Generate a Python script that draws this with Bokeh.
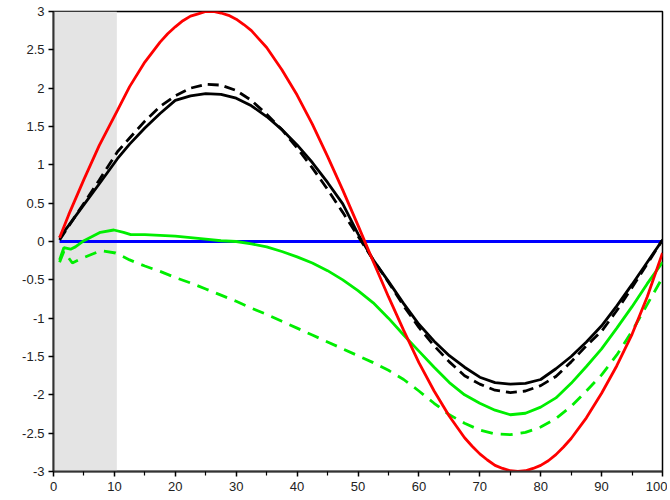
from bokeh.plotting import figure
from bokeh.models import Range1d, FixedTicker, BoxAnnotation
from bokeh.embed import file_html
from bokeh.resources import INLINE

# red curve
red_x = [1, 2.5, 5, 7.5, 10.5, 12.5, 15, 17.5, 18.75, 20, 21.25, 22.5, 23.75, 25, 26.25,
         27.5, 28.75, 30, 31.25, 32.5, 33.75, 35, 37.5, 40, 42.5, 45, 47.5, 50, 52.5, 55,
         57.5, 60, 62.5, 65, 67.5, 68.75, 70, 71.25, 72.5, 73.75, 75, 76.25, 77.5, 78.75,
         80, 81.25, 82.5, 83.75, 85, 87.5, 90, 92.5, 95, 97.5, 100]
red = [0.05, 0.35, 0.81, 1.25, 1.71, 2.02, 2.34, 2.60, 2.71, 2.80, 2.88, 2.94, 2.97, 3.0,
       3.0, 2.98, 2.95, 2.90, 2.83, 2.75, 2.64, 2.53, 2.24, 1.91, 1.53, 1.11, 0.67, 0.21,
       -0.26, -0.72, -1.16, -1.58, -1.95, -2.28, -2.56, -2.67, -2.77, -2.85, -2.92, -2.96,
       -2.99, -3.0, -2.99, -2.96, -2.92, -2.86, -2.78, -2.68, -2.57, -2.30, -1.98, -1.62,
       -1.21, -0.72, -0.15]

# black curves
x = [1, 2.5, 5, 7.5, 10.5, 12.5, 15, 17.5, 20, 22.5, 25, 27.5, 30, 32.5, 35, 37.5,
     40, 42.5, 45, 47.5, 50, 52.5, 55, 57.5, 60, 62.5, 65, 67.5, 70, 72.5, 75, 77.5,
     80, 82.5, 85, 87.5, 90, 92.5, 95, 97.5, 100]
black_solid = [0.05, 0.21, 0.48, 0.75, 1.08, 1.27, 1.48, 1.67, 1.84, 1.90, 1.93, 1.92,
               1.87, 1.77, 1.63, 1.46, 1.26, 1.03, 0.77, 0.49, 0.10, -0.24, -0.52,
               -0.81, -1.08, -1.30, -1.49, -1.64, -1.77, -1.84, -1.86, -1.85, -1.80,
               -1.66, -1.50, -1.31, -1.10, -0.84, -0.56, -0.27, 0.02]
black_dashed = [0.02, 0.20, 0.50, 0.80, 1.17, 1.35, 1.57, 1.76, 1.90, 2.00, 2.05, 2.04,
                1.97, 1.84, 1.66, 1.46, 1.22, 0.96, 0.68, 0.38, 0.07, -0.24, -0.53,
                -0.84, -1.12, -1.36, -1.57, -1.75, -1.86, -1.94, -1.97, -1.95, -1.88,
                -1.76, -1.57, -1.36, -1.17, -0.90, -0.60, -0.29, 0.02]

# green curves
green_x = [1, 1.7, 2.8, 3.6, 5, 7.7, 9.9, 11.5, 12.7, 15, 17.5, 20, 22.5, 25, 27.5, 30,
           32.5, 35, 37.5, 40, 42.5, 45, 47.5, 50, 52.5, 55, 57.5, 60, 62.5, 65, 67.5,
           70, 72.5, 75, 77.5, 80, 82.5, 85, 87.5, 90, 92.5, 95, 97.5, 100]
green_solid = [-0.24, -0.08, -0.10, -0.07, 0.01, 0.12, 0.15, 0.12, 0.09, 0.09, 0.08,
               0.07, 0.05, 0.03, 0.01, 0.0, -0.03, -0.07, -0.13, -0.20, -0.28, -0.38,
               -0.50, -0.64, -0.80, -1.00, -1.22, -1.43, -1.64, -1.84, -2.00, -2.11,
               -2.20, -2.26, -2.24, -2.16, -2.04, -1.85, -1.63, -1.40, -1.13, -0.85,
               -0.55, -0.27]

gd_x = [1, 1.7, 3.1, 4.4, 7.7, 10.2, 12.5, 15, 17.5, 20, 22.5, 25, 27.5, 30, 32.5, 35,
        37.5, 40, 42.5, 45, 47.5, 50, 52.5, 55, 57.5, 60, 62.5, 65, 67.5, 70, 72.5, 75,
        77.5, 80, 82.5, 85, 87.5, 90, 92.5, 95, 97.5, 100]
green_dashed = [-0.27, -0.13, -0.28, -0.23, -0.12, -0.15, -0.24, -0.32, -0.39, -0.47,
                -0.54, -0.62, -0.70, -0.78, -0.87, -0.95, -1.04, -1.13, -1.22, -1.31,
                -1.40, -1.49, -1.58, -1.68, -1.80, -1.95, -2.11, -2.26, -2.37, -2.46,
                -2.51, -2.52, -2.49, -2.42, -2.31, -2.15, -1.95, -1.74, -1.48, -1.17,
                -0.82, -0.47]

blue_x = [1, 100]
blue_y = [0, 0]

shade_left, shade_right = 0, 10.4

x_ticks = [0, 10, 20, 30, 40, 50, 60, 70, 80, 90, 100]
x_minor = [5, 15, 25, 35, 45, 55, 65, 75, 85, 95]
y_ticks = [-3, -2.5, -2, -1.5, -1, -0.5, 0, 0.5, 1, 1.5, 2, 2.5, 3]
y_labels = ["-3", "-2.5", "-2", "-1.5", "-1", "-0.5", "0", "0.5", "1", "1.5", "2", "2.5", "3"]

p = figure(width=667, height=498, output_backend="svg", toolbar_location=None,
           x_range=Range1d(0, 100), y_range=Range1d(-3, 3),
           min_border_left=53, min_border_top=11, min_border_right=5, min_border_bottom=27)
p.xgrid.visible = False
p.ygrid.visible = False
p.outline_line_color = "black"
p.outline_line_width = 1.5
p.background_fill_color = "white"
p.border_fill_color = "white"

p.add_layout(BoxAnnotation(left=shade_left, right=shade_right, fill_color="#e4e4e4",
                           fill_alpha=1.0, line_color=None, level="underlay"))

p.line(blue_x, blue_y, line_color="#0000ff", line_width=3)
p.line(green_x, green_solid, line_color="#00ee00", line_width=2.8)
p.line(gd_x, green_dashed, line_color="#00ee00", line_width=2.8, line_dash="12 8")
p.line(x, black_dashed, line_color="black", line_width=2.8, line_dash="11 6")
p.line(x, black_solid, line_color="black", line_width=2.8)
p.line(red_x, red, line_color="#ff0000", line_width=2.8)

for ax in (p.xaxis[0], p.yaxis[0]):
    ax.axis_line_color = "#333333"
    ax.axis_line_width = 2
    ax.major_tick_line_color = "black"
    ax.major_tick_line_width = 1.5
    ax.major_tick_in = 0
    ax.major_tick_out = 5
    ax.major_label_text_font = "Liberation Sans"
    ax.major_label_text_font_size = "13px"
    ax.major_label_text_color = "#222222"
    ax.major_label_standoff = 4

p.xaxis[0].ticker = FixedTicker(ticks=x_ticks, minor_ticks=x_minor)
p.xaxis[0].minor_tick_line_color = "black"
p.xaxis[0].minor_tick_in = 0
p.xaxis[0].minor_tick_out = 4
p.xaxis[0].minor_tick_line_width = 1.2
p.xaxis[0].major_label_standoff = 5

p.yaxis[0].ticker = FixedTicker(ticks=y_ticks, minor_ticks=[])
p.yaxis[0].minor_tick_line_color = None
p.yaxis[0].major_label_overrides = {t: l for t, l in zip(y_ticks, y_labels)}

open("out.html", "w").write(file_html(p, INLINE))
